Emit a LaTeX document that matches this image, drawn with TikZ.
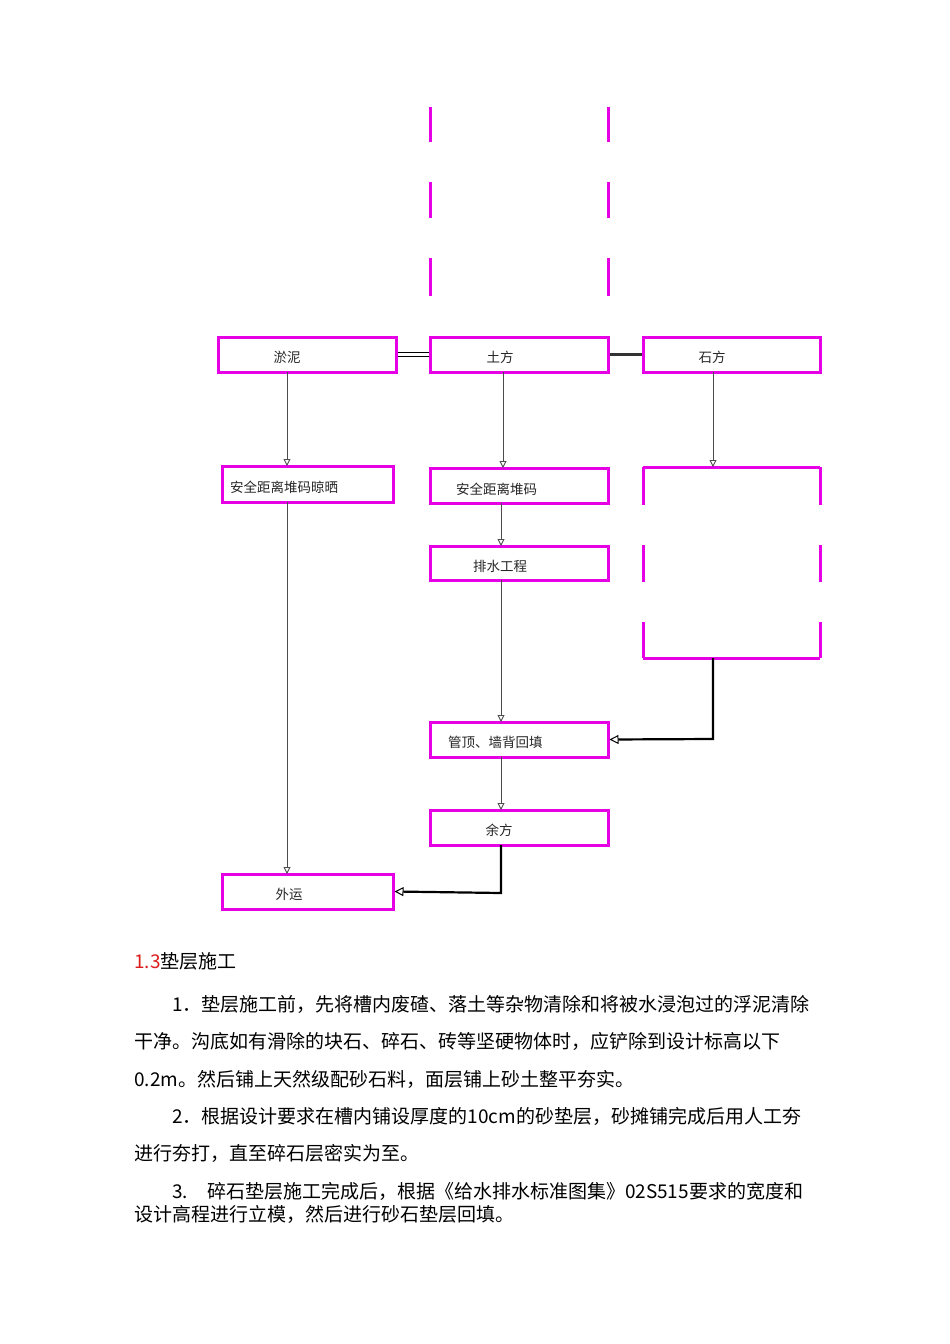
\documentclass[tikz,border=0pt]{standalone}
\usepackage{fontspec}
\newfontfamily\cjk{Noto Sans CJK SC}
\usetikzlibrary{arrows.meta}
\definecolor{mag}{RGB}{230,0,230}
\definecolor{redt}{RGB}{220,30,30}
\tikzset{
 box/.style={draw=mag,line width=3pt,fill=white,inner sep=0pt},
 lbl/.style={inner sep=0pt,font=\cjk\fontsize{13.5}{15}\selectfont,text=black!85},
 lbll/.style={lbl,anchor=west},
 flow/.style={draw=black!70,line width=0.9pt,-{Triangle[open,length=7pt,width=7pt]}},
 thick flow/.style={draw=black,line width=2.2pt,-{Triangle[open,length=9pt,width=9pt,line width=1pt]}},
 bodyt/.style={anchor=west,inner sep=0pt,font=\cjk\fontsize{19}{21}\selectfont},
}
\begin{document}
\begin{tikzpicture}[x=1pt,y=-1pt]
\useasboundingbox[fill=white] (0,0) rectangle (950,1344);
% top dashed box (sides only)
\foreach \a/\b in {107/142,182/218,258/296}{
 \draw[mag,line width=3pt] (430,\a) -- (430,\b);
 \draw[mag,line width=3pt] (608,\a) -- (608,\b);}
% boxes
\node[box,minimum width=178pt,minimum height=35pt] (yn) at (307,354.5) {};
\node[box,minimum width=178pt,minimum height=35pt] (tf) at (519,354.5) {};
\node[box,minimum width=177pt,minimum height=35pt] (sf) at (731.5,354.5) {};
\node[box,minimum width=171pt,minimum height=36pt] (aq1) at (307.5,484) {};
\node[box,minimum width=178pt,minimum height=35pt] (aq2) at (519,485.5) {};
\node[box,minimum width=178pt,minimum height=34pt] (ps) at (519,563) {};
% right tall box with broken sides
\draw[mag,line width=3pt] (643,467) -- (820,467);
\draw[mag,line width=3pt] (643,658) -- (820,658);
\foreach \a/\b in {467/505,545/582,622/658}{
 \draw[mag,line width=3pt] (643,\a) -- (643,\b);
 \draw[mag,line width=3pt] (820,\a) -- (820,\b);}
\coordinate (rbtop) at (713,467);
\coordinate (rbbot) at (713,658);
\node[box,minimum width=178pt,minimum height=35pt] (gd) at (519,739.5) {};
\node[box,minimum width=178pt,minimum height=35pt] (yf) at (519,827.5) {};
\node[box,minimum width=171pt,minimum height=35pt] (wy) at (307.5,891.5) {};
% labels
\node[lbl] (tyn) at (287,357) {淤泥};
\node[lbl] (ttf) at (500,357) {土方};
\node[lbl] (tsf) at (712,357) {石方};
\node[lbll] (taq1) at (230,487) {安全距离堆码晾晒};
\node[lbll] (taq2) at (456,489) {安全距离堆码};
\node[lbl] (tps) at (500,566) {排水工程};
\node[lbll] (tgd) at (448,742) {管顶、墙背回填};
\node[lbl] (tyf) at (499,830) {余方};
\node[lbl] (twy) at (289,894) {外运};
% links between top boxes
\draw[black,line width=1pt,double distance=2.5pt] (yn.east) -- (tf.west);
\draw[black!80,line width=3pt] (tf.east) -- (sf.west);
% flows
\draw[flow] (287,372) -- (287,466);
\draw[flow] (503,372) -- (503,468);
\draw[flow] (713,372) -- (rbtop);
\draw[flow] (287,502) -- (287,874);
\draw[flow] (501,503) -- (501,546);
\draw[flow] (501,580) -- (501,722);
\draw[thick flow] (rbbot) -- (713,739) -- (gd.east);
\draw[flow] (501,757) -- (501,810);
\draw[thick flow] (501,845) -- (501,893) -- (wy.east);
% body text
\node[bodyt] (h) at (134,961) {\textcolor{redt}{1.3}垫层施工};
\node[bodyt] (l1) at (172,1004) {1．垫层施工前，先将槽内废碴、落土等杂物清除和将被水浸泡过的浮泥清除};
\node[bodyt] (l2) at (134,1041) {干净。沟底如有滑除的块石、碎石、砖等坚硬物体时，应铲除到设计标高以下};
\node[bodyt] (l3) at (134,1079) {0.2m。然后铺上天然级配砂石料，面层铺上砂土整平夯实。};
\node[bodyt] (l4) at (172,1116) {2．根据设计要求在槽内铺设厚度的10cm的砂垫层，砂摊铺完成后用人工夯};
\node[bodyt] (l5) at (134,1153) {进行夯打，直至碎石层密实为至。};
\node[bodyt] (l6) at (172,1191) {3.\quad 碎石垫层施工完成后，根据《给水排水标准图集》02S515要求的宽度和};
\node[bodyt] (l7) at (134,1214) {设计高程进行立模，然后进行砂石垫层回填。};
\end{tikzpicture}
\end{document}
